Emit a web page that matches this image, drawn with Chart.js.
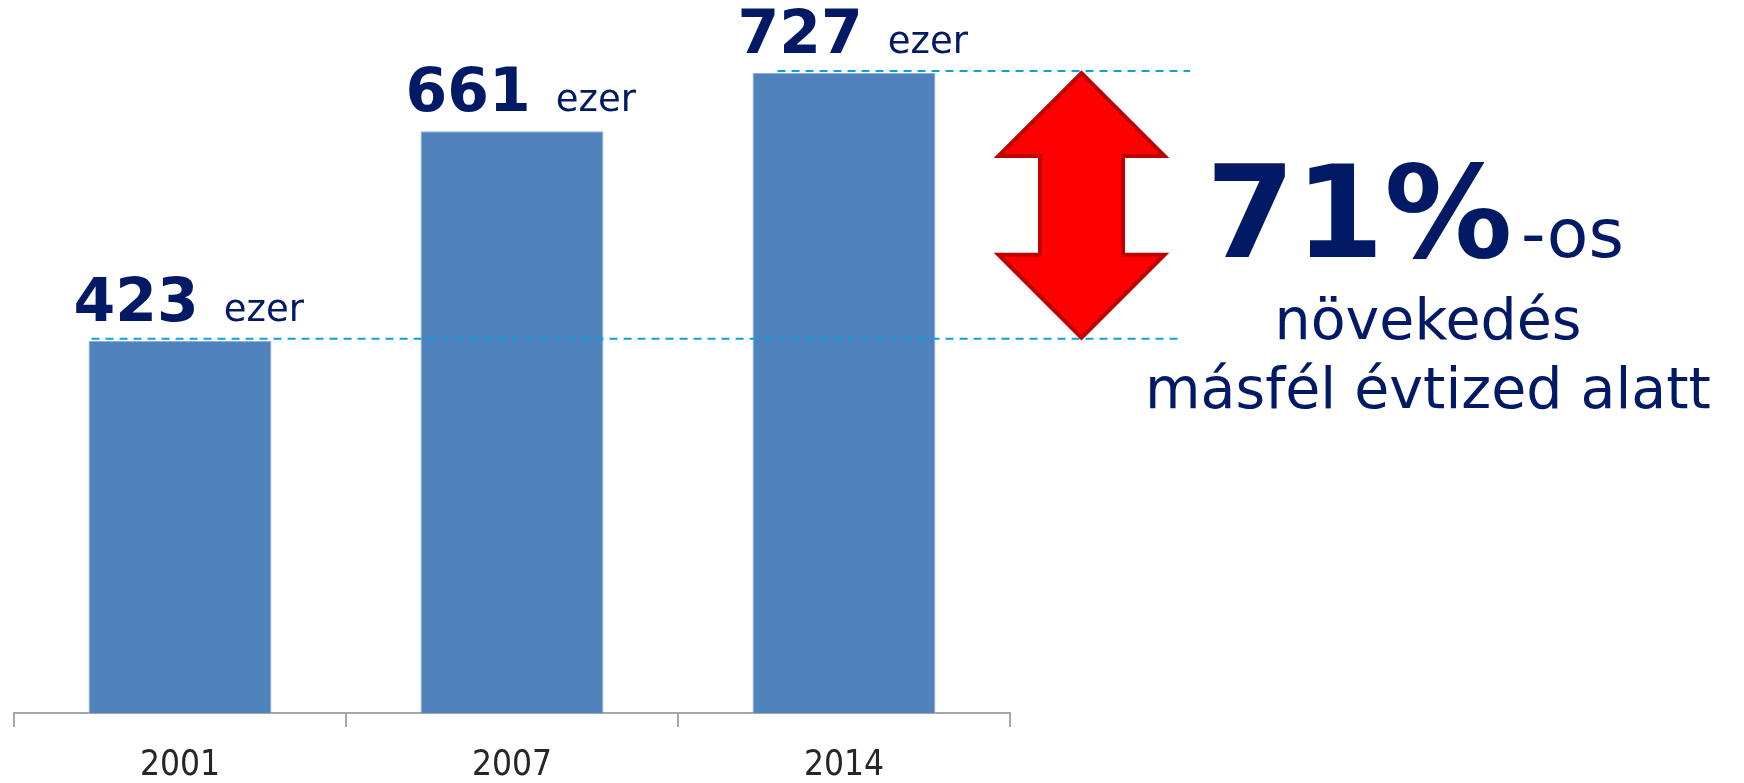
<!DOCTYPE html>
<html><head><meta charset="utf-8">
<script src="https://cdn.jsdelivr.net/npm/chart.js@4/dist/chart.umd.min.js"></script>
<style>html,body{margin:0;padding:0;background:#fff;} #wrap{width:1744px;height:783px;position:relative;}</style>
</head><body><div id="wrap"><canvas id="c"></canvas></div>
<script>
const categories = ['2001', '2007', '2014'];
const values = [423, 661, 727];
const valueUnit = 'ezer';
const growthText = '71%';
const growthSuffix = '-os';
const captionLines = ['növekedés', 'másfél évtized alatt'];
const rangeFrom = 423;
const rangeTo = 727;

const NAVY = '#021a66';
const annot = {
  id: 'annot',
  afterDatasetsDraw(chart) {
    const ctx = chart.ctx;
    const y = chart.scales.y;
    const meta = chart.getDatasetMeta(0);
    ctx.save();
    // dashed reference lines
    ctx.strokeStyle = '#0fa0da';
    ctx.lineWidth = 2;
    ctx.setLineDash([8, 6]);
    const yTo = y.getPixelForValue(rangeTo) - 2;
    const yFrom = y.getPixelForValue(rangeFrom) - 2;
    const b0 = meta.data[0], b2 = meta.data[2];
    ctx.beginPath(); ctx.moveTo(b0.x - b0.width / 2 + 3, yFrom); ctx.lineTo(1180, yFrom); ctx.stroke();
    ctx.beginPath(); ctx.moveTo(b2.x - b2.width / 2 + 25, yTo); ctx.lineTo(1190, yTo); ctx.stroke();
    ctx.setLineDash([]);
    // double arrow
    const cx = 1081.5, top = y.getPixelForValue(rangeTo), bot = y.getPixelForValue(rangeFrom) - 3;
    const hh = 83, sh = 41.5, hH = 83;
    ctx.beginPath();
    ctx.moveTo(cx, top);
    ctx.lineTo(cx + hh, top + hH);
    ctx.lineTo(cx + sh, top + hH);
    ctx.lineTo(cx + sh, bot - hH);
    ctx.lineTo(cx + hh, bot - hH);
    ctx.lineTo(cx, bot);
    ctx.lineTo(cx - hh, bot - hH);
    ctx.lineTo(cx - sh, bot - hH);
    ctx.lineTo(cx - sh, top + hH);
    ctx.lineTo(cx - hh, top + hH);
    ctx.closePath();
    ctx.fillStyle = '#ff0000';
    ctx.fill();
    ctx.strokeStyle = '#c00000';
    ctx.lineWidth = 4;
    ctx.lineJoin = 'miter';
    ctx.stroke();
    // value labels
    ctx.fillStyle = NAVY;
    ctx.textBaseline = 'alphabetic';
    ctx.textAlign = 'left';
    meta.data.forEach((bar, i) => {
      const x = bar.x - bar.width / 2 - 15;
      const yy = bar.y - 20;
      ctx.font = 'bold 60px "DejaVu Sans"';
      ctx.fillText(String(values[i]), x, yy);
      const w = ctx.measureText(String(values[i])).width;
      ctx.font = '37px "DejaVu Sans"';
      ctx.fillText(valueUnit, x + w + 25, yy);
    });
    // growth text
    ctx.font = 'bold 128px "DejaVu Sans"';
    ctx.fillText(growthText, 1206, 257);
    ctx.font = '68px "DejaVu Sans"';
    ctx.fillText(growthSuffix, 1521, 257);
    ctx.textAlign = 'center';
    ctx.font = '57px "DejaVu Sans"';
    ctx.fillText(captionLines[0], 1428, 339);
    ctx.fillText(captionLines[1], 1428, 408);
    ctx.restore();
  }
};

new Chart(document.getElementById('c'), {
  type: 'bar',
  data: {
    labels: categories,
    datasets: [{
      data: values,
      backgroundColor: '#4f81bd',
      borderColor: '#8fb0da',
      borderWidth: 1,
      categoryPercentage: 1.0,
      barPercentage: 0.551
    }]
  },
  options: {
    responsive: true,
    maintainAspectRatio: false,
    animation: false,
    layout: { padding: { left: 14, right: 734, top: 0, bottom: 0 } },
    plugins: { legend: { display: false }, tooltip: { enabled: false } },
    scales: {
      y: { display: false, min: 0, max: 810 },
      x: {
        afterFit(scale) { scale.height = 70; },
        grid: { display: true, drawOnChartArea: false, drawTicks: true, tickLength: 14, color: '#a6a6a6', lineWidth: 2, offset: true },
        border: { display: true, color: '#a6a6a6', width: 2 },
        ticks: { color: '#262626', padding: 18, font: { family: '"DejaVu Sans Condensed", "Liberation Sans Narrow", sans-serif', size: 35 } }
      }
    }
  },
  plugins: [annot]
});
</script>
</body></html>
